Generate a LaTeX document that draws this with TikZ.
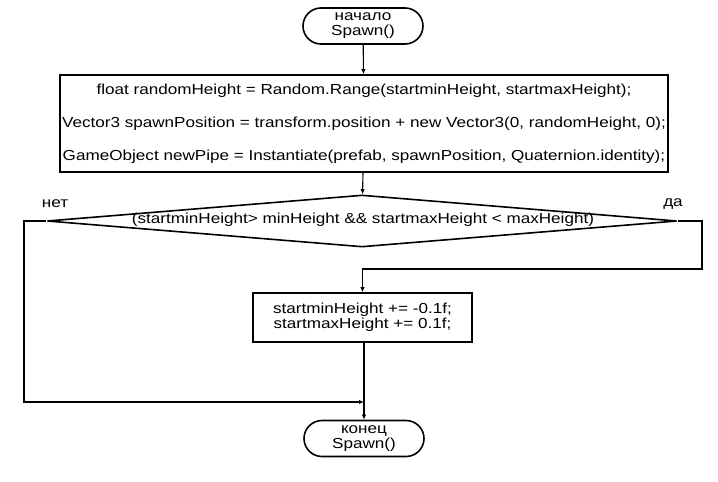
\documentclass[tikz,border=0pt]{standalone}
\usepackage{fontspec}
\setmainfont[FakeStretch=1.18]{Liberation Sans}
\usetikzlibrary{shapes.geometric,arrows.meta}
\begin{document}
\begin{tikzpicture}[x=1pt,y=-1pt,
  every node/.style={font=\fontsize{14.5}{15}\selectfont},
  term/.style={draw,line width=1.6pt,rounded corners=18pt,minimum width=120pt,minimum height=36pt,inner sep=0pt,align=center},
  proc/.style={draw,line width=1.6pt,inner sep=0pt,align=center},
  dec/.style={draw,line width=1.6pt,shape=diamond,aspect=12,inner sep=0pt,minimum width=630pt,minimum height=52pt},
  conn/.style={line width=1.1pt},
  arr/.style={conn,-{Latex[length=5pt,width=4.5pt]}}]
\useasboundingbox (0,0) rectangle (718,482);
\node[term] (start) at (363,26) {начало\\Spawn()};
\node[proc,minimum width=608pt,minimum height=97pt,font=\fontsize{14.5}{33}\selectfont] (p1) at (364,123.5)
  {float randomHeight = Random.Range(startminHeight, startmaxHeight);\\
   Vector3 spawnPosition = transform.position + new Vector3(0, randomHeight, 0);\\
   GameObject newPipe = Instantiate(prefab, spawnPosition, Quaternion.identity);};
\node[dec] (d) at (362,221) {};
\node at (363,220) {(startminHeight> minHeight \&\& startmaxHeight < maxHeight)};
\node (no) at (55,204) {нет};
\node (yes) at (673,204) {да};
\node[proc,minimum width=219pt,minimum height=49pt] (p2) at (362.5,317.5)
  {startminHeight += -0.1f;\\startmaxHeight += 0.1f;};
\node[term] (end) at (364,438.5) {конец\\Spawn()};
\coordinate (yr) at (702,221);
\coordinate (yb) at (702,269);
\coordinate (yc) at (362.5,269);
\coordinate (nl) at (24,221);
\coordinate (nb) at (24,402);
\coordinate (jn) at (364,402);
\draw[arr] (start) -- (p1);
\draw[arr] (p1) -- (d);
\draw[arr] (d.east) -- (yr) -- (yb) -- (yc) -- (p2);
\draw[arr] (d.west) -- (nl) -- (nb) -- (jn);
\draw[arr] (p2.south -| end) -- (end);
\end{tikzpicture}
\end{document}
